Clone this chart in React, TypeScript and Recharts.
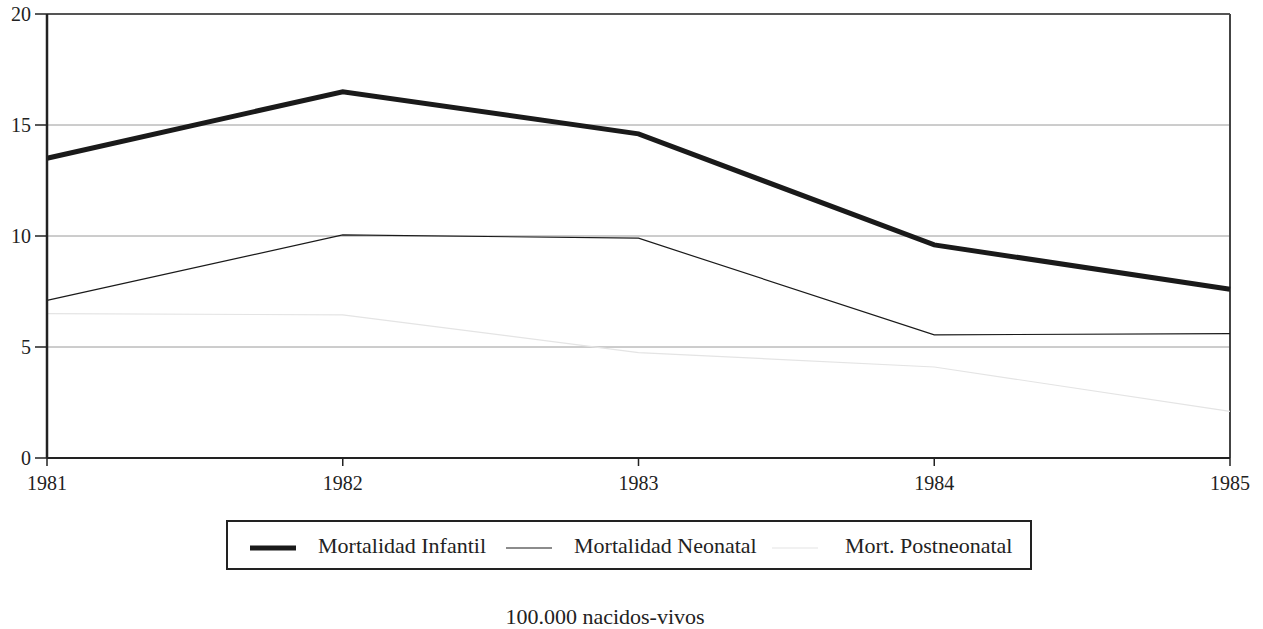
import React from "react";
import { LineChart, Line, XAxis, YAxis, CartesianGrid, ReferenceLine } from "recharts";

const years = ["1981", "1982", "1983", "1984", "1985"];
const infantil = [13.5, 16.5, 14.6, 9.6, 7.6];
const neonatal = [7.1, 10.05, 9.9, 5.55, 5.6];
const postneonatal = [6.5, 6.45, 4.75, 4.1, 2.1];
const yTicks = [0, 5, 10, 15, 20];

const seriesInfo = [
  { key: "infantil", name: "Mortalidad Infantil", color: "#1a1a1a", width: 5 },
  { key: "neonatal", name: "Mortalidad Neonatal", color: "#1a1a1a", width: 1.2 },
  { key: "postneonatal", name: "Mort. Postneonatal", color: "#e4e4e4", width: 1.2 },
];

const legendLineLeft = [24, 280, 546];
const legendTextLeft = [92, 348, 619];

const data = years.map((y, i) => ({
  year: y,
  infantil: infantil[i],
  neonatal: neonatal[i],
  postneonatal: postneonatal[i],
}));

const FONT = "Liberation Serif, Times New Roman, serif";

export default function App() {
  return (
    <div style={{ position: "absolute", left: 0, top: 0, width: 1263, height: 629, background: "#fff", fontFamily: FONT }}>
      <LineChart width={1263} height={629} data={data} margin={{ top: 14, right: 33, left: 0, bottom: 141 }}>
        <CartesianGrid horizontal={true} vertical={false} stroke="#9a9a9a" strokeWidth={1} />
        <XAxis
          dataKey="year"
          padding={{ left: 0, right: 0 }}
          height={30}
          axisLine={{ stroke: "#222", strokeWidth: 2 }}
          tickLine={{ stroke: "#222", strokeWidth: 1.5 }}
          tickSize={8}
          tickMargin={10}
          tick={{ fill: "#222", fontSize: 20, fontFamily: FONT }}
          interval={0}
        />
        <YAxis
          domain={[0, 20]}
          ticks={yTicks}
          width={47}
          axisLine={{ stroke: "#222", strokeWidth: 2.5 }}
          tickLine={{ stroke: "#222", strokeWidth: 1.5 }}
          tickSize={12}
          tickMargin={4}
          tick={{ fill: "#222", fontSize: 20, fontFamily: FONT }}
          interval={0}
        />
        <ReferenceLine y={20} stroke="#555" strokeWidth={2} />
        <ReferenceLine x="1985" stroke="#444" strokeWidth={2} />
        {seriesInfo.map((s) => (
          <Line
            key={s.key}
            type="linear"
            dataKey={s.key}
            name={s.name}
            stroke={s.color}
            strokeWidth={s.width}
            dot={false}
            activeDot={false}
            isAnimationActive={false}
          />
        ))}
      </LineChart>
      <div
        style={{
          position: "absolute",
          left: 226,
          top: 520,
          width: 806,
          height: 50,
          boxSizing: "border-box",
          border: "2px solid #222",
          fontSize: 22,
          color: "#222",
        }}
      >
        {seriesInfo.map((s, i) => (
          <React.Fragment key={s.key}>
            <svg width={46} height={10} style={{ position: "absolute", left: legendLineLeft[i] - 2, top: 21 }}>
              <line x1={0} y1={5} x2={46} y2={5} stroke={s.color} strokeWidth={s.width} />
            </svg>
            <span style={{ position: "absolute", left: legendTextLeft[i] - 2, top: 11, lineHeight: "25px", whiteSpace: "nowrap" }}>
              {s.name}
            </span>
          </React.Fragment>
        ))}
      </div>
      <div style={{ position: "absolute", left: 0, width: 1210, top: 604, textAlign: "center", fontSize: 22, lineHeight: "25px", color: "#222" }}>
        100.000 nacidos-vivos
      </div>
    </div>
  );
}
